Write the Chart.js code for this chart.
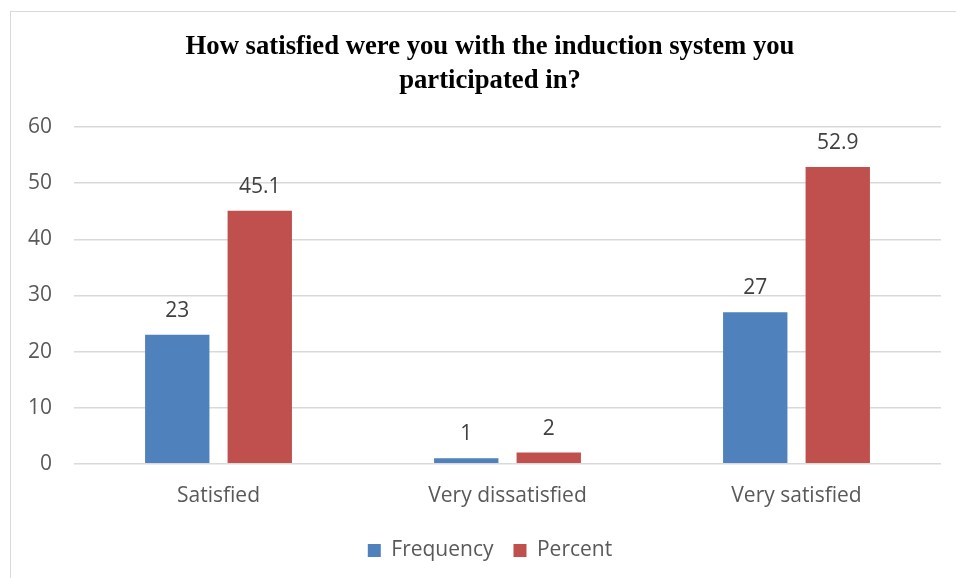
<!DOCTYPE html>
<html>
<head>
<meta charset="utf-8">
<script src="https://cdn.jsdelivr.net/npm/chart.js@4"></script>
<style>
  html, body { margin: 0; padding: 0; background: #ffffff; overflow: hidden; }
  #wrap { position: absolute; left: 10px; top: 11px; width: 990px; height: 570px; border: 1px solid #d9d9d9; }
  canvas { display: block; }
</style>
</head>
<body>
<div id="wrap"><canvas id="c"></canvas></div>
<script>
const titleLines = ["How satisfied were you with the induction system you", "participated in?"];
const categories = ["Satisfied", "Very dissatisfied", "Very satisfied"];
const frequency = [23, 1, 27];
const percent = [45.1, 2, 52.9];
const yTicks = [0, 10, 20, 30, 40, 50, 60];

const valueLabels = {
  id: 'valueLabels',
  afterDatasetsDraw(chart) {
    const ctx = chart.ctx;
    ctx.save();
    ctx.font = '21px "Open Sans"';
    ctx.fillStyle = '#404040';
    ctx.textAlign = 'center';
    ctx.textBaseline = 'middle';
    chart.data.datasets.forEach((ds, i) => {
      const meta = chart.getDatasetMeta(i);
      meta.data.forEach((bar, j) => {
        ctx.fillText(String(ds.data[j]), bar.x, bar.y - 24);
      });
    });
    ctx.restore();
  }
};

new Chart(document.getElementById('c'), {
  type: 'bar',
  data: {
    labels: categories,
    datasets: [
      { label: 'Frequency', data: frequency, backgroundColor: '#4F81BD', categoryPercentage: 0.571, barPercentage: 0.78 },
      { label: 'Percent', data: percent, backgroundColor: '#C0504D', categoryPercentage: 0.571, barPercentage: 0.78 }
    ]
  },
  options: {
    responsive: true,
    maintainAspectRatio: false,
    animation: false,
    layout: { padding: { left: -5, right: 27, top: 0, bottom: 11 } },
    plugins: {
      title: {
        display: true,
        text: titleLines,
        color: '#000000',
        font: { family: 'Liberation Serif', size: 26.7, weight: 'bold', lineHeight: 1.275 },
        padding: { top: 18, bottom: 29 }
      },
      legend: {
        position: 'bottom',
        labels: {
          boxWidth: 13, boxHeight: 13, padding: 20,
          color: '#595959',
          font: { family: 'Open Sans', size: 21 }
        }
      },
      tooltip: { enabled: false }
    },
    scales: {
      x: {
        grid: { display: false },
        border: { display: false },
        ticks: { color: '#595959', font: { family: 'Open Sans', size: 21 }, padding: 12 },
        afterFit(scale) { scale.height -= 1; }
      },
      y: {
        min: 0, max: 60,
        afterBuildTicks(scale) { scale.ticks = yTicks.map(v => ({ value: v })); },
        grid: { color: '#d9d9d9', lineWidth: 1.5, drawTicks: false },
        border: { display: false },
        ticks: { color: '#595959', font: { family: 'Open Sans', size: 21 }, padding: 22 }
      },
      yRight: {
        position: 'right',
        display: true,
        min: 0, max: 60,
        grid: { display: false, drawTicks: false },
        border: { display: false },
        ticks: { display: false },
        afterFit(scale) { scale.width = 33; }
      }
    }
  },
  plugins: [valueLabels]
});
</script>
</body>
</html>
